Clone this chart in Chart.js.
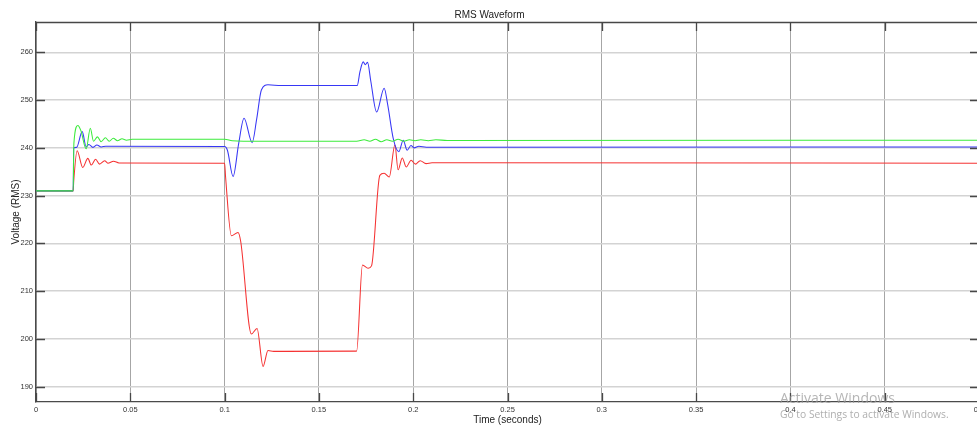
<!DOCTYPE html>
<html>
<head>
<meta charset="utf-8">
<title>RMS Waveform</title>
<script src="https://cdn.jsdelivr.net/npm/chart.js@4.4.1/dist/chart.umd.min.js"></script>
<style>
  html, body { margin: 0; padding: 0; background: #ffffff; overflow: hidden; }
  #wrap { width: 979px; height: 427px; }
</style>
</head>
<body>
<div id="wrap"><canvas id="rms" width="979" height="427"></canvas></div>
<script>
// Time samples (s) and RMS voltage (V) for each phase
const timeGreen = [0, 0.0197, 0.0201, 0.0222, 0.0238, 0.0266, 0.0288, 0.0305, 0.0326, 0.0345, 0.0368, 0.0388,
  0.0410, 0.0432, 0.0456, 0.0480, 0.0510, 0.1000, 0.1040, 0.1100, 0.1700, 0.1740, 0.1770, 0.1800, 0.1830,
  0.1860, 0.1890, 0.1920, 0.1950, 0.1980, 0.2010, 0.2040, 0.2080, 0.2120, 0.2180, 0.5000];
const voltGreen = [231, 231, 241.0, 244.7, 243.6, 239.8, 244.1, 241.4, 242.3, 241.3, 242.1, 241.4,
  242.0, 241.5, 241.9, 241.6, 241.8, 241.8, 241.5, 241.4, 241.4, 241.7, 241.4, 241.8, 241.3,
  241.7, 241.4, 241.8, 241.4, 241.7, 241.5, 241.7, 241.5, 241.7, 241.55, 241.6];

const timeBlue = [0, 0.0197, 0.0200, 0.0215, 0.0245, 0.0266, 0.0280, 0.0302, 0.0323, 0.0346, 0.0370, 0.1000,
  0.1015, 0.1045, 0.1075, 0.1103, 0.1146, 0.1170, 0.1195, 0.1230, 0.1300, 0.1703, 0.1718, 0.1735, 0.1746,
  0.1758, 0.1775, 0.1806, 0.1846, 0.1865, 0.1894, 0.1924, 0.1947, 0.1968, 0.1988, 0.2005, 0.2030, 0.2070, 0.5000];
const voltBlue = [231, 231, 240.0, 240.1, 243.4, 240.2, 240.7, 240.1, 240.6, 240.2, 240.35, 240.3,
  239.5, 234.0, 241.0, 246.2, 241.1, 246.0, 252.1, 253.2, 253.05, 253.05, 256.0, 258.0, 257.4,
  257.9, 254.0, 247.5, 252.5, 249.0, 242.0, 239.2, 241.6, 239.5, 240.5, 240.0, 240.35, 240.15, 240.2];

const timeRed = [0, 0.0197, 0.0200, 0.0218, 0.0248, 0.0275, 0.0293, 0.0316, 0.0337, 0.0364, 0.0381, 0.0411,
  0.0440, 0.1000, 0.1005, 0.1036, 0.1071, 0.1085, 0.1142, 0.1172, 0.1204, 0.1230, 0.1260, 0.1700, 0.1731,
  0.1761, 0.1779, 0.1823, 0.1846, 0.1873, 0.1903, 0.1920, 0.1942, 0.1963, 0.1989, 0.2012, 0.2037, 0.2068,
  0.2100, 0.5000];
const voltRed = [231, 231, 233.0, 239.4, 235.9, 237.8, 236.4, 237.6, 236.6, 237.3, 236.8, 237.2,
  236.85, 236.8, 234.0, 221.6, 222.3, 220.5, 201.05, 202.2, 194.25, 197.6, 197.4, 197.45, 215.5,
  214.8, 215.3, 234.25, 234.7, 233.9, 240.6, 235.4, 237.9, 236.0, 237.4, 236.6, 237.3, 236.7,
  236.9, 236.8];

// Axis ranges and tick spacing
const xRange = [0, 0.5];
const xStep = 0.05;
const yRange = [186.8, 266.35];
const yStep = 10;

const toPoints = (ts, vs) => ts.map((t, i) => ({ x: t, y: vs[i] }));

// Inward tick marks on all four sides plus the top frame line
const insideTicks = {
  id: 'insideTicks',
  afterDatasetsDraw(chart) {
    const { ctx, chartArea: a, scales: { x, y } } = chart;
    const len = 9;
    ctx.save();
    ctx.strokeStyle = '#474747';
    ctx.lineWidth = 1.3;
    ctx.beginPath();
    x.ticks.forEach(t => {
      const px = Math.round(x.getPixelForValue(t.value)) + 0.5;
      ctx.moveTo(px, a.bottom); ctx.lineTo(px, a.bottom - len);
      ctx.moveTo(px, a.top); ctx.lineTo(px, a.top + len);
    });
    y.ticks.forEach(t => {
      const py = Math.round(y.getPixelForValue(t.value)) + 0.5;
      ctx.moveTo(a.left, py); ctx.lineTo(a.left + len, py);
      ctx.moveTo(a.right, py); ctx.lineTo(a.right - len, py);
    });
    ctx.moveTo(a.left, a.top + 0.5); ctx.lineTo(a.right, a.top + 0.5);
    ctx.stroke();
    ctx.restore();
  }
};

// Desktop activation notice in the lower right corner
const notice = {
  id: 'notice',
  afterDraw(chart) {
    const ctx = chart.ctx;
    ctx.save();
    ctx.textBaseline = 'middle';
    ctx.textAlign = 'left';
    ctx.fillStyle = 'rgba(150,150,150,0.7)';
    ctx.font = '14px "Open Sans", "Noto Sans", sans-serif';
    ctx.fillText('Activate Windows', 780, 399);
    ctx.fillStyle = 'rgba(140,140,140,0.7)';
    ctx.font = '10.3px "Open Sans", "Noto Sans", sans-serif';
    ctx.fillText('Go to Settings to activate Windows.', 780, 415);
    ctx.restore();
  }
};

const tickFont = { family: '"Liberation Sans", Arial, sans-serif', size: 7.5 };
const titleFont = { family: '"Liberation Sans", Arial, sans-serif', size: 10 };

new Chart(document.getElementById('rms'), {
  type: 'line',
  data: {
    datasets: [
      { label: 'Phase C', data: toPoints(timeGreen, voltGreen), borderColor: 'rgb(60,235,60)' },
      { label: 'Phase B', data: toPoints(timeBlue, voltBlue), borderColor: 'rgb(55,55,245)' },
      { label: 'Phase A', data: toPoints(timeRed, voltRed), borderColor: 'rgb(245,50,50)' }
    ]
  },
  options: {
    responsive: false,
    devicePixelRatio: 1,
    animation: false,
    parsing: false,
    layout: { padding: 0 },
    elements: {
      point: { radius: 0 },
      line: { borderWidth: 1.05, cubicInterpolationMode: 'monotone', fill: false }
    },
    plugins: {
      legend: { display: false },
      tooltip: { enabled: false },
      title: {
        display: true,
        text: 'RMS Waveform',
        color: '#222',
        font: { ...titleFont, weight: 'normal' },
        padding: { top: 9, bottom: 1 }
      }
    },
    scales: {
      x: {
        type: 'linear',
        min: xRange[0],
        max: xRange[1],
        afterFit(s) { s.height = 25; s.paddingLeft = 0; s.paddingRight = 0; },
        ticks: {
          stepSize: xStep,
          includeBounds: false,
          color: '#333',
          font: tickFont,
          padding: 3,
          maxRotation: 0,
          autoSkip: false,
          callback: v => String(Math.round(v * 100) / 100)
        },
        grid: { color: '#a6a6a6', lineWidth: 1, drawTicks: false },
        border: { color: '#4a4a4a', width: 1.3 },
        title: {
          display: true,
          text: 'Time (seconds)',
          color: '#222',
          font: titleFont,
          padding: { top: 0, bottom: 1 }
        }
      },
      y: {
        type: 'linear',
        min: yRange[0],
        max: yRange[1],
        afterFit(s) { s.width = 36; s.paddingTop = 0; s.paddingBottom = 0; },
        ticks: {
          stepSize: yStep,
          includeBounds: false,
          color: '#333',
          font: tickFont,
          padding: 3
        },
        grid: { color: '#d3d3d3', lineWidth: 1.5, drawTicks: false },
        border: { color: '#4a4a4a', width: 1.3 },
        title: {
          display: true,
          text: 'Voltage (RMS)',
          color: '#222',
          font: titleFont,
          padding: { top: 10, bottom: 0 }
        }
      }
    }
  },
  plugins: [insideTicks, notice]
});
</script>
</body>
</html>
